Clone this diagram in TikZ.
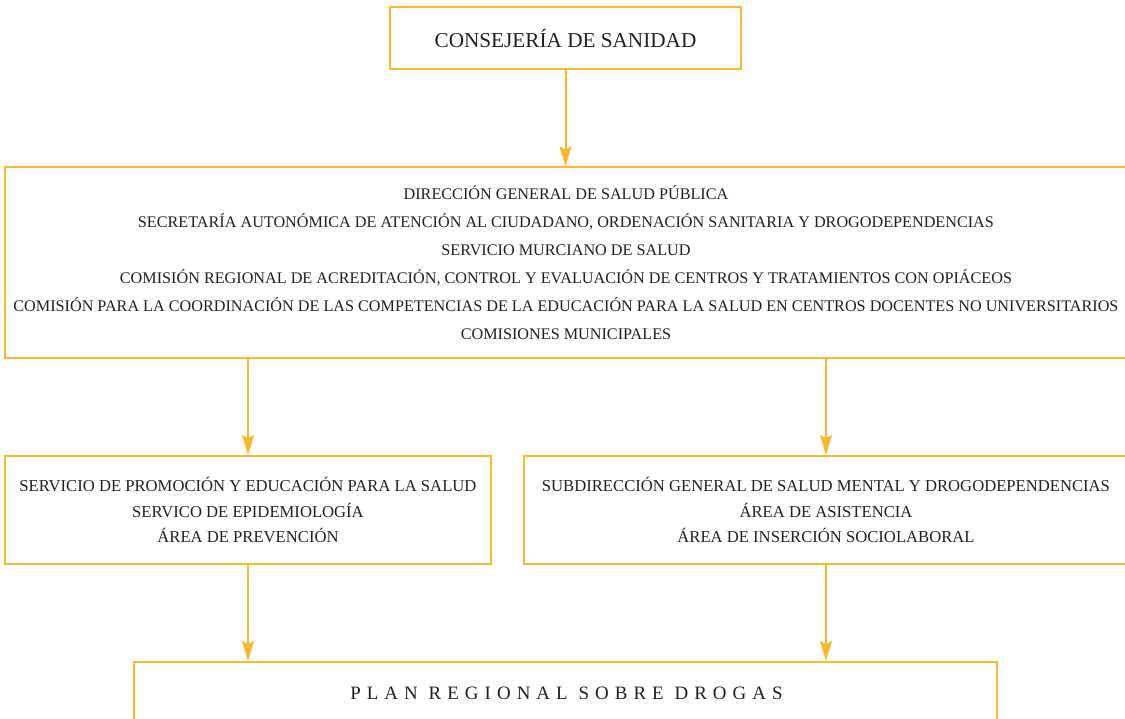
\documentclass[tikz,border=0pt]{standalone}
\usepackage{fontspec}
\setmainfont{Liberation Serif}
\newfontfamily\spacedfont[LetterSpace=32]{Liberation Serif}
\usetikzlibrary{arrows.meta}
\definecolor{boxorange}{RGB}{252,184,44}
\definecolor{txtcol}{RGB}{35,31,32}
\begin{document}
\begin{tikzpicture}[x=1bp,y=-1bp,
  orgbox/.style={draw=boxorange, line width=2bp, rectangle, inner sep=0pt, align=center, text=txtcol},
  conn/.style={draw=boxorange, line width=2bp, -{Stealth[length=20bp,width=12bp,inset=3bp]}}]
\useasboundingbox (0,0) rectangle (1125,719);
\clip (0,0) rectangle (1125,719);
\node[orgbox, minimum width=351bp, minimum height=62bp, font=\fontsize{21.3}{25}\selectfont] (cons) at (565.5,38) {CONSEJERÍA DE SANIDAD};
\node[orgbox, minimum width=1122bp, minimum height=190.5bp, font=\fontsize{16.25}{28.2}\selectfont] (dir) at (566,262.75)
 {DIRECCIÓN GENERAL DE SALUD PÚBLICA\\
  SECRETARÍA AUTONÓMICA DE ATENCIÓN AL CIUDADANO, ORDENACIÓN SANITARIA Y DROGODEPENDENCIAS\\
  SERVICIO MURCIANO DE SALUD\\
  COMISIÓN REGIONAL DE ACREDITACIÓN, CONTROL Y EVALUACIÓN DE CENTROS Y TRATAMIENTOS CON OPIÁCEOS\\
  COMISIÓN PARA LA COORDINACIÓN DE LAS COMPETENCIAS DE LA EDUCACIÓN PARA LA SALUD EN CENTROS DOCENTES NO UNIVERSITARIOS\\
  COMISIONES MUNICIPALES};
\node[orgbox, minimum width=486bp, minimum height=108bp, font=\fontsize{16.7}{26}\selectfont] (left) at (248,510)
 {SERVICIO DE PROMOCIÓN Y EDUCACIÓN PARA LA SALUD\\
  SERVICO DE EPIDEMIOLOGÍA\\
  ÁREA DE PREVENCIÓN};
\node[orgbox, minimum width=604bp, minimum height=108bp, font=\fontsize{16.7}{26}\selectfont] (right) at (826,510)
 {SUBDIRECCIÓN GENERAL DE SALUD MENTAL Y DROGODEPENDENCIAS\\
  ÁREA DE ASISTENCIA\\
  ÁREA DE INSERCIÓN SOCIOLABORAL};
\node[orgbox, minimum width=863bp, minimum height=118bp] (plan) at (565.5,721) {};
\node[anchor=base, inner sep=0pt, text=txtcol, font=\spacedfont\fontsize{19}{23}\selectfont] (plantext) at (566.5,699) {PLAN REGIONAL SOBRE DROGAS};
\draw[conn] (cons.south) -- (cons.south |- dir.north);
\draw[conn] (dir.south -| left.north) -- (left.north);
\draw[conn] (dir.south -| right.north) -- (right.north);
\draw[conn] (left.south) -- (left.south |- plan.north);
\draw[conn] (right.south) -- (right.south |- plan.north);
\end{tikzpicture}
\end{document}
